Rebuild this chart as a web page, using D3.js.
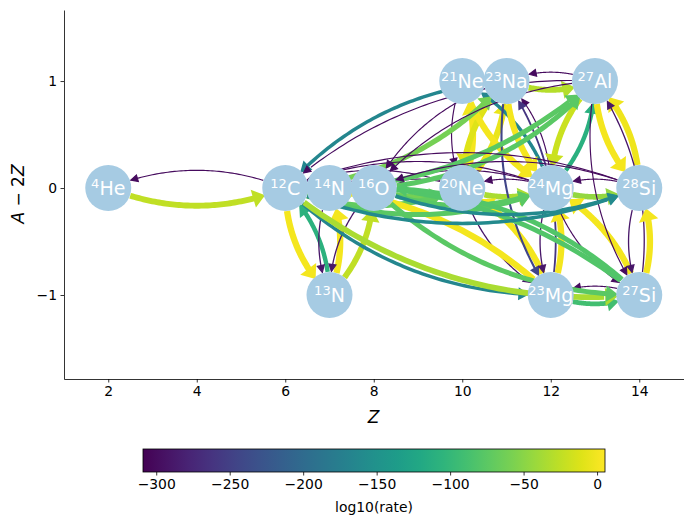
<!DOCTYPE html>
<html><head><meta charset="utf-8">
<script src="https://cdn.jsdelivr.net/npm/d3@7"></script>
<style>body{margin:0;background:#fff} text{font-family:"DejaVu Sans",sans-serif}</style>
</head><body>
<svg id="chart" width="693" height="525"></svg>
<script>
// ---------------- data ----------------
const nucNames   = ["he4","c12","n13","n14","o16","ne20","ne21","na23","mg23","mg24","al27","si27","si28"];
const nucSymbols = ["He","C","N","N","O","Ne","Ne","Na","Mg","Mg","Al","Si","Si"];
const nucA       = [4,12,13,14,16,20,21,23,23,24,27,27,28];
const nucZ       = [2,6,7,7,8,10,10,11,12,12,13,14,14];

const edgeSources = ["he4","c12","c12","n13","n13","n14","n13","o16","c12","o16","o16","ne20","ne20","mg24","mg24","si28",
 "ne20","ne21","ne20","na23","ne20","mg23","ne21","mg24","na23","mg24","na23","mg23","na23","al27","mg23","mg24",
 "mg23","si27","mg24","al27","mg24","si27","al27","si28","al27","si27","si27","si28",
 "c12","ne20","c12","na23","c12","mg23","c12","o16","mg24","mg24","c12","o16","al27","al27",
 "c12","o16","si27","si27","c12","o16","si28","si28","na23"];
const edgeTargets = ["c12","he4","n13","c12","n14","n13","o16","n13","o16","c12","ne20","o16","mg24","ne20","si28","mg24",
 "ne21","ne20","na23","ne20","mg23","ne20","mg24","ne21","mg24","na23","mg23","na23","al27","na23","mg24","mg23",
 "si27","mg23","al27","mg24","si27","mg24","si28","al27","si27","al27","si28","si27",
 "ne20","c12","na23","c12","mg23","c12","mg24","mg24","c12","o16","al27","al27","c12","o16",
 "si27","si27","c12","o16","si28","si28","c12","o16","o16"];
const edgeLogRates = [-25,-300,0,-108,0,-290,-25,-290,-40,-280,-60,-300,-35,-300,-45,-300,
 0,-300,-5,-10,-290,0,0,-165,0,-300,-245,-260,-30,-300,0,-290,
 -90,-300,-110,-20,-300,0,0,-3,-300,-290,0,-290,
 -70,-300,-60,-165,-165,0,-75,-75,-300,-300,-75,-75,-300,-300,
 -35,-75,-80,-80,-160,-160,-300,-300,-300];

const xTicks = [2,4,6,8,10,12,14];
const yTicks = [-1,0,1];
const cbarTicks = [-300,-250,-200,-150,-100,-50,0];

// ---------------- setup ----------------
const svg = d3.select("#chart");
const x = d3.scaleLinear().domain([1,15]).range([64,683.5]);
const y = d3.scaleLinear().domain([-1.785,1.664]).range([379,10]);
const cmin = -309, cmax = 5.4;
const cnorm = d3.scaleLinear().domain([cmin,cmax]).range([0,1]).clamp(true);
const color = v => d3.interpolateViridis(cnorm(v));
const R = 23, rad = 0.2;

const nodeIdx = {};
nucNames.forEach((n,i)=>nodeIdx[n]=i);
const pos = n => { const i=nodeIdx[n]; return [x(nucZ[i]), y(nucA[i]-2*nucZ[i])]; };

// ---------------- axes ----------------
const gx = svg.append("g").attr("transform","translate(0,379)")
  .call(d3.axisBottom(x).tickValues(xTicks).tickSize(3.5).tickPadding(3.5).tickSizeOuter(0));
const gy = svg.append("g").attr("transform","translate(64,0)")
  .call(d3.axisLeft(y).tickValues(yTicks).tickSize(3.5).tickPadding(3.5).tickSizeOuter(0).tickFormat(d3.format("d")));
[gx,gy].forEach(g=>{
  g.selectAll("text").attr("font-size","13.9px").attr("font-family","DejaVu Sans").attr("fill","#000");
  g.selectAll("line").attr("stroke","#000").attr("stroke-width",0.8);
  g.select(".domain").attr("stroke","#000").attr("stroke-width",0.8);
});
svg.append("text").attr("x",373.5).attr("y",423).attr("text-anchor","middle")
  .attr("font-size","17px").attr("font-style","italic").text("Z");
svg.append("text").attr("transform","translate(24,194) rotate(-90)").attr("text-anchor","middle")
  .attr("font-size","17px").html('<tspan font-style="italic">A</tspan> − 2<tspan font-style="italic">Z</tspan>');

// ---------------- edges ----------------
const gE = svg.append("g");
function bez(p0,c,p2,t){const u=1-t;return [u*u*p0[0]+2*u*t*c[0]+t*t*p2[0], u*u*p0[1]+2*u*t*c[1]+t*t*p2[1]];}
const dist=(a,b)=>Math.hypot(a[0]-b[0],a[1]-b[1]);
edgeSources.forEach((s,i)=>{
  const t = edgeTargets[i], v = edgeLogRates[i];
  const p0=pos(s), p2=pos(t);
  const dx=p2[0]-p0[0], dy=p2[1]-p0[1];
  const c=[(p0[0]+p2[0])/2 - rad*dy, (p0[1]+p2[1])/2 + rad*dx];
  let t0=0; while(t0<1 && dist(bez(p0,c,p2,t0),p0)<R) t0+=0.002;
  let t1=1; while(t1>0 && dist(bez(p0,c,p2,t1),p2)<R) t1-=0.002;
  const tip = bez(p0,c,p2,t1);
  const pb = bez(p0,c,p2,t1-0.01);
  let ux=tip[0]-pb[0], uy=tip[1]-pb[1]; const ul=Math.hypot(ux,uy); ux/=ul; uy/=ul;
  const w = 1.0 + 5.4*cnorm(v);
  const L = 7.5, hw = 3.4;
  const pts=[];
  for(let k=0;k<=60;k++){
    const tt=t0+(t1-t0)*k/60; const p=bez(p0,c,p2,tt);
    if(dist(p,tip) < L*0.8) break;
    pts.push(p);
  }
  const col = color(v);
  gE.append("path").attr("d",d3.line()(pts)).attr("fill","none").attr("stroke",col)
    .attr("stroke-width",w);
  const base=[tip[0]-ux*L, tip[1]-uy*L];
  const head=[[tip[0]-ux*w*0.5,tip[1]-uy*w*0.5],[base[0]-uy*hw,base[1]+ux*hw],[base[0]+uy*hw,base[1]-ux*hw]];
  gE.append("polygon").attr("points",head.map(p=>p.join(",")).join(" "))
    .attr("fill",col).attr("stroke",col).attr("stroke-width",w).attr("stroke-linejoin","miter");
});

// ---------------- nodes ----------------
const gN = svg.append("g");
nucNames.forEach((n,i)=>{
  const p=pos(n);
  gN.append("circle").attr("cx",p[0]).attr("cy",p[1]).attr("r",R).attr("fill","#a6cbe3");
  gN.append("text").attr("x",p[0]).attr("y",p[1]+7).attr("text-anchor","middle")
    .attr("fill","#fff").attr("font-size","19px")
    .html(`<tspan font-size="13px" dy="-7.5">${nucA[i]}</tspan><tspan dy="7.5">${nucSymbols[i]}</tspan>`);
});

// ---------------- colorbar ----------------
const cbX = d3.scaleLinear().domain([cmin,cmax]).range([143,605]);
const defs = svg.append("defs");
const grad = defs.append("linearGradient").attr("id","vir").attr("x1","0%").attr("x2","100%");
d3.range(0,1.0001,0.05).forEach(t=>grad.append("stop").attr("offset",(t*100)+"%").attr("stop-color",d3.interpolateViridis(t)));
svg.append("rect").attr("x",143).attr("y",449).attr("width",462).attr("height",23).attr("fill","url(#vir)")
  .attr("stroke","#000").attr("stroke-width",0.8);
const gc = svg.append("g").attr("transform","translate(0,472)")
  .call(d3.axisBottom(cbX).tickValues(cbarTicks).tickSize(3.5).tickPadding(3.5).tickSizeOuter(0));
gc.select(".domain").remove();
gc.selectAll("text").attr("font-size","13.9px").attr("font-family","DejaVu Sans").attr("fill","#000");
gc.selectAll("line").attr("stroke","#000").attr("stroke-width",0.8);
svg.append("text").attr("x",374).attr("y",512).attr("text-anchor","middle").attr("font-size","13.9px").text("log10(rate)");
</script>
</body></html>
